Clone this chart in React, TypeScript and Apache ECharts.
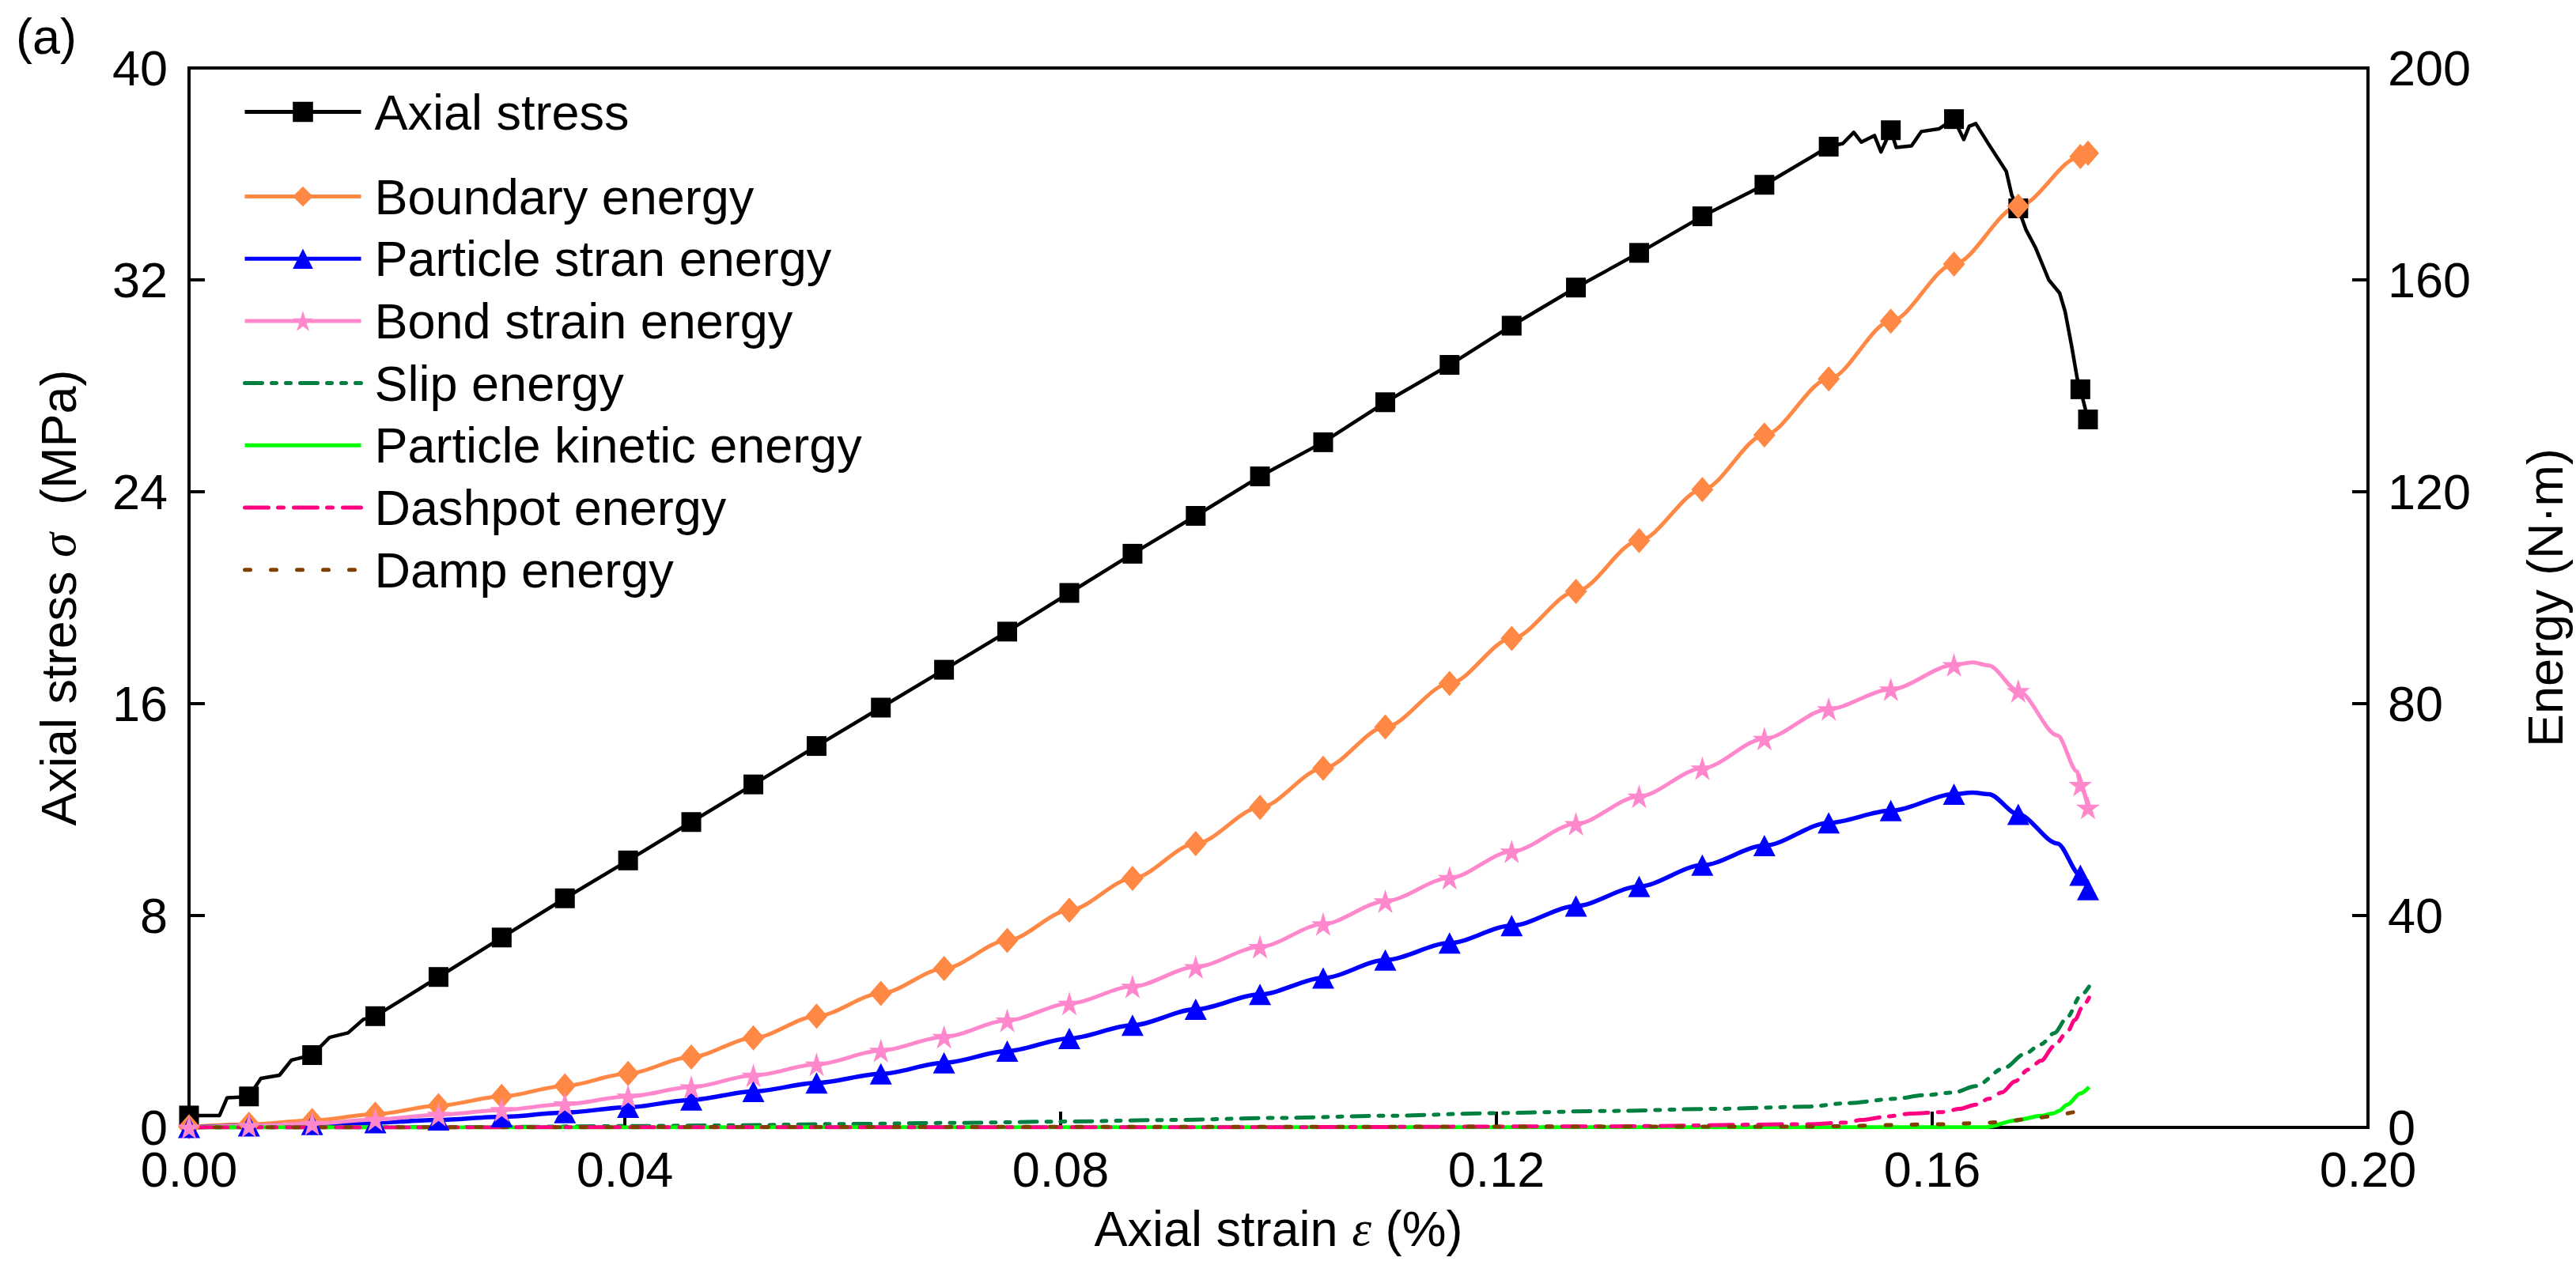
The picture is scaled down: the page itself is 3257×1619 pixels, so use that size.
import React, { useEffect, useRef } from 'react';
import * as echarts from 'echarts';

const FONT = '"Liberation Sans", Arial, Helvetica, sans-serif';
const SERIF = '"Liberation Serif", "Times New Roman", serif';

// strain positions (%) of the plotted markers
const markerStrain = [0, 0.0055, 0.0113, 0.0171, 0.0229, 0.0287, 0.0345, 0.0403, 0.0461, 0.0518, 0.0576, 0.0635, 0.0693, 0.0751, 0.0808, 0.0866, 0.0924, 0.0983, 0.1041, 0.1098, 0.1157, 0.1214, 0.1273, 0.1331, 0.1389, 0.1446, 0.1505, 0.1562, 0.162, 0.1679, 0.1736, 0.1743];

// axial stress (MPa) at markers
const stressMarkers = [0.45, 1.17, 2.73, 4.2, 5.68, 7.17, 8.65, 10.08, 11.53, 12.95, 14.4, 15.85, 17.28, 18.72, 20.18, 21.66, 23.09, 24.58, 25.87, 27.38, 28.79, 30.27, 31.71, 33.02, 34.4, 35.59, 37.03, 37.65, 38.07, 34.7, 27.87, 26.73];
// additional points of the raw stress curve between markers
const stressDetailStrain = [0.0028, 0.0035, 0.005, 0.0066, 0.0083, 0.0094, 0.0129, 0.0146, 0.016, 0.1518, 0.1528, 0.1535, 0.1547, 0.1553, 0.1567, 0.1581, 0.159, 0.1606, 0.1629, 0.1634, 0.164, 0.1653, 0.1668, 0.1673, 0.1686, 0.1695, 0.1702, 0.1707, 0.1717, 0.1722, 0.1728, 0.1733];
const stressDetailValue = [0.45, 1.12, 1.15, 1.85, 1.97, 2.54, 3.4, 3.57, 4.08, 37.15, 37.57, 37.2, 37.45, 36.83, 37.0, 37.06, 37.6, 37.7, 37.3, 37.8, 37.9, 37.05, 36.1, 35.2, 33.9, 33.2, 32.5, 32.0, 31.5, 30.8, 29.5, 28.3];

// energies (N·m) at markers
const boundaryEnergy = [0.1, 0.6, 1.3, 2.5, 4.1, 5.85, 7.85, 10.2, 13.3, 16.9, 21.0, 25.3, 30.0, 35.3, 41.0, 47.0, 53.6, 60.4, 67.8, 75.6, 83.8, 92.3, 101.2, 110.8, 120.4, 130.7, 141.3, 152.2, 163.0, 173.9, 183.3, 183.9];
const particleStrainEnergy = [0, 0.3, 0.55, 0.9, 1.4, 2.0, 2.8, 3.8, 5.2, 6.8, 8.4, 10.1, 12.2, 14.4, 16.8, 19.3, 22.3, 25.1, 28.2, 31.6, 34.8, 38.1, 41.8, 45.5, 49.5, 53.2, 57.5, 59.8, 62.9, 59.1, 47.6, 44.9];
const particleExtraStrain = [0.1637, 0.1652, 0.1715];
const particleExtraValue = [63.2, 62.9, 53.6];
const bondStrainEnergy = [0, 0.3, 0.7, 1.5, 2.4, 3.3, 4.4, 5.85, 7.6, 9.8, 11.9, 14.5, 17.1, 20.2, 23.4, 26.6, 30.3, 34.1, 38.4, 42.7, 47.1, 52.1, 57.3, 62.5, 67.8, 73.4, 79.0, 82.7, 87.3, 82.4, 64.7, 60.4];
const bondExtraStrain = [0.1637, 0.1652, 0.1715, 0.1733];
const bondExtraValue = [87.8, 87.2, 74.0, 67.2];

const slipStrain = [0, 0.02, 0.03, 0.04, 0.05, 0.06, 0.07, 0.08, 0.09, 0.1, 0.11, 0.12, 0.13, 0.14, 0.1484, 0.1523, 0.1565, 0.1594, 0.162, 0.164, 0.1666, 0.1685, 0.17, 0.1712, 0.1724, 0.1736, 0.1744];
const slipEnergy = [0, 0.05, 0.1, 0.25, 0.4, 0.65, 0.85, 1.1, 1.4, 1.8, 2.2, 2.7, 3.1, 3.5, 3.9, 4.6, 5.4, 6.1, 6.6, 7.8, 11.2, 13.9, 15.7, 17.8, 20.8, 24.8, 26.6];
const kineticStrain = [0, 0.165, 0.1676, 0.17, 0.1712, 0.1716, 0.1724, 0.1736, 0.1744];
const kineticEnergy = [0, 0.05, 1.3, 2.2, 2.7, 3.1, 4.3, 6.4, 7.6];
const dashpotStrain = [0, 0.1, 0.13, 0.1484, 0.152, 0.1535, 0.156, 0.158, 0.161, 0.1625, 0.164, 0.1652, 0.1664, 0.1676, 0.1688, 0.17, 0.1712, 0.1724, 0.1731, 0.1738, 0.1744];
const dashpotEnergy = [0, 0.05, 0.2, 0.6, 0.9, 1.4, 2.1, 2.6, 2.9, 3.5, 4.3, 5.4, 6.6, 8.7, 10.9, 12.6, 15.4, 18.0, 20.3, 22.8, 24.5];
const dampStrain = [0, 0.148, 0.161, 0.1652, 0.1673, 0.1695, 0.1713, 0.1732, 0.1744];
const dampEnergy = [0, 0.15, 0.6, 0.9, 1.3, 1.8, 2.2, 2.9, 3.4];

const seriesNames = ['Axial stress', 'Boundary energy', 'Particle stran energy', 'Bond strain energy', 'Slip energy', 'Particle kinetic energy', 'Dashpot energy', 'Damp energy'];

const STAR = 'path://M50 0L61.2 34.5H97.6L68.2 55.9L79.4 90.5L50 69.1L20.6 90.5L31.8 55.9L2.4 34.5H38.8Z';

function marked(xs: number[], ys: number[], ex: number[], ey: number[]) {
  const a: any[] = xs.map((x, i) => ({ value: [x, ys[i]] }));
  const b: any[] = ex.map((x, i) => ({ value: [x, ey[i]], symbol: 'none' }));
  return a.concat(b).sort((p, q) => p.value[0] - q.value[0]);
}
function pairs(xs: number[], ys: number[]) {
  return xs.map((x, i) => [x, ys[i]]);
}

export default function App() {
  const ref = useRef<HTMLDivElement>(null);
  useEffect(() => {
    if (!ref.current) return;
    const chart = echarts.init(ref.current, undefined, { renderer: 'svg' });
    const axisText = { fontFamily: FONT, fontSize: 63, color: '#000' };
    const legendCommon: any = {
      orient: 'vertical',
      left: 307,
      itemWidth: 147,
      itemHeight: 32,
      padding: 0,
      itemGap: 15.7,
      selectedMode: false,
      textStyle: { fontFamily: FONT, fontSize: 63, color: '#000', padding: [0, 0, 0, 12] },
      lineStyle: { width: 5 },
    };
    const hidden = { itemStyle: { opacity: 0 } };
    chart.setOption({
      animation: false,
      backgroundColor: '#fff',
      grid: { left: 239, top: 86, width: 2778, height: 1340, show: true, borderColor: '#000', borderWidth: 4, containLabel: false },
      legend: [
        { ...legendCommon, top: 110, data: [seriesNames[0]] },
        {
          ...legendCommon,
          top: 217,
          data: [
            seriesNames[1], seriesNames[2], seriesNames[3],
            { name: seriesNames[4], ...hidden },
            { name: seriesNames[5], ...hidden },
            { name: seriesNames[6], ...hidden },
            { name: seriesNames[7], ...hidden },
          ],
        },
      ],
      graphic: [
        { type: 'text', left: 20, top: 14, style: { text: '(a)', fontFamily: FONT, fontSize: 63, fill: '#000' } },
      ],
      xAxis: {
        type: 'value', min: 0, max: 0.2, interval: 0.04,
        name: 'Axial strain {i|ε} (%)', nameLocation: 'middle', nameGap: 96,
        nameTextStyle: { ...axisText, rich: { i: { fontFamily: SERIF, fontStyle: 'italic', fontSize: 63, color: '#000' } } },
        axisLine: { show: true, onZero: false, lineStyle: { color: '#000', width: 4 } },
        axisTick: { show: true, inside: true, length: 20, lineStyle: { color: '#000', width: 4 } },
        axisLabel: { ...axisText, lineHeight: 46, margin: 30, formatter: (v: number) => v.toFixed(2) },
        splitLine: { show: false },
      },
      yAxis: [
        {
          type: 'value', min: 0, max: 40, interval: 8, position: 'left',
          name: 'Axial stress {i|σ}  (MPa)', nameLocation: 'middle', nameGap: 134, nameRotate: 90,
          nameTextStyle: { ...axisText, rich: { i: { fontFamily: SERIF, fontStyle: 'italic', fontSize: 63, color: '#000' } } },
          axisLine: { show: true, onZero: false, lineStyle: { color: '#000', width: 4 } },
          axisTick: { show: true, inside: true, length: 20, lineStyle: { color: '#000', width: 4 } },
          axisLabel: { ...axisText, lineHeight: 46, margin: 27 },
          splitLine: { show: false },
        },
        {
          type: 'value', min: 0, max: 200, interval: 40, position: 'right',
          name: 'Energy (N·m)', nameLocation: 'middle', nameGap: 192, nameRotate: 90,
          nameTextStyle: { ...axisText },
          axisLine: { show: true, onZero: false, lineStyle: { color: '#000', width: 4 } },
          axisTick: { show: true, inside: true, length: 20, lineStyle: { color: '#000', width: 4 } },
          axisLabel: { ...axisText, lineHeight: 46, margin: 25 },
          splitLine: { show: false },
        },
      ],
      series: [
        {
          name: seriesNames[0], type: 'line', yAxisIndex: 0,
          data: marked(markerStrain, stressMarkers, stressDetailStrain, stressDetailValue),
          symbol: 'rect', symbolSize: 25, showSymbol: true,
          lineStyle: { color: '#000', width: 4.5, join: 'round' }, itemStyle: { color: '#000' },
        },
        {
          name: seriesNames[1], type: 'line', yAxisIndex: 1,
          data: marked(markerStrain, boundaryEnergy, [], []),
          symbol: 'diamond', symbolSize: [28, 32], smooth: 0.3, smoothMonotone: 'x',
          lineStyle: { color: '#FF8844', width: 5 }, itemStyle: { color: '#FF8844' },
        },
        {
          name: seriesNames[2], type: 'line', yAxisIndex: 1,
          data: marked(markerStrain, particleStrainEnergy, particleExtraStrain, particleExtraValue),
          symbol: 'triangle', symbolSize: [28, 27], smooth: 0.3, smoothMonotone: 'x',
          lineStyle: { color: '#0000FF', width: 5.5 }, itemStyle: { color: '#0000FF' },
        },
        {
          name: seriesNames[3], type: 'line', yAxisIndex: 1,
          data: marked(markerStrain, bondStrainEnergy, bondExtraStrain, bondExtraValue),
          symbol: STAR, symbolSize: 30, smooth: 0.3, smoothMonotone: 'x',
          lineStyle: { color: '#FF88CC', width: 5 }, itemStyle: { color: '#FF88CC' },
        },
        {
          name: seriesNames[4], type: 'line', yAxisIndex: 1, data: pairs(slipStrain, slipEnergy),
          symbol: 'none', showSymbol: false, smooth: 0.3, smoothMonotone: 'x',
          lineStyle: { color: '#008040', width: 5, type: [22, 12, 6, 12, 6, 12], cap: 'round' }, itemStyle: { color: '#008040' },
        },
        {
          name: seriesNames[5], type: 'line', yAxisIndex: 1, data: pairs(kineticStrain, kineticEnergy),
          symbol: 'none', showSymbol: false, smooth: 0.3, smoothMonotone: 'x',
          lineStyle: { color: '#00FF00', width: 5 }, itemStyle: { color: '#00FF00' },
        },
        {
          name: seriesNames[6], type: 'line', yAxisIndex: 1, data: pairs(dashpotStrain, dashpotEnergy),
          symbol: 'none', showSymbol: false, smooth: 0.3, smoothMonotone: 'x',
          lineStyle: { color: '#FF0080', width: 5, type: [30, 12, 7, 13], cap: 'round' }, itemStyle: { color: '#FF0080' },
        },
        {
          name: seriesNames[7], type: 'line', yAxisIndex: 1, data: pairs(dampStrain, dampEnergy),
          symbol: 'none', showSymbol: false, smooth: 0.3, smoothMonotone: 'x',
          lineStyle: { color: '#804000', width: 5, type: [7, 26], cap: 'round' }, itemStyle: { color: '#804000' },
        },
      ],
    });
    return () => chart.dispose();
  }, []);
  return <div ref={ref} style={{ position: 'absolute', left: 0, top: 0, width: 3257, height: 1619, background: '#fff' }} />;
}
